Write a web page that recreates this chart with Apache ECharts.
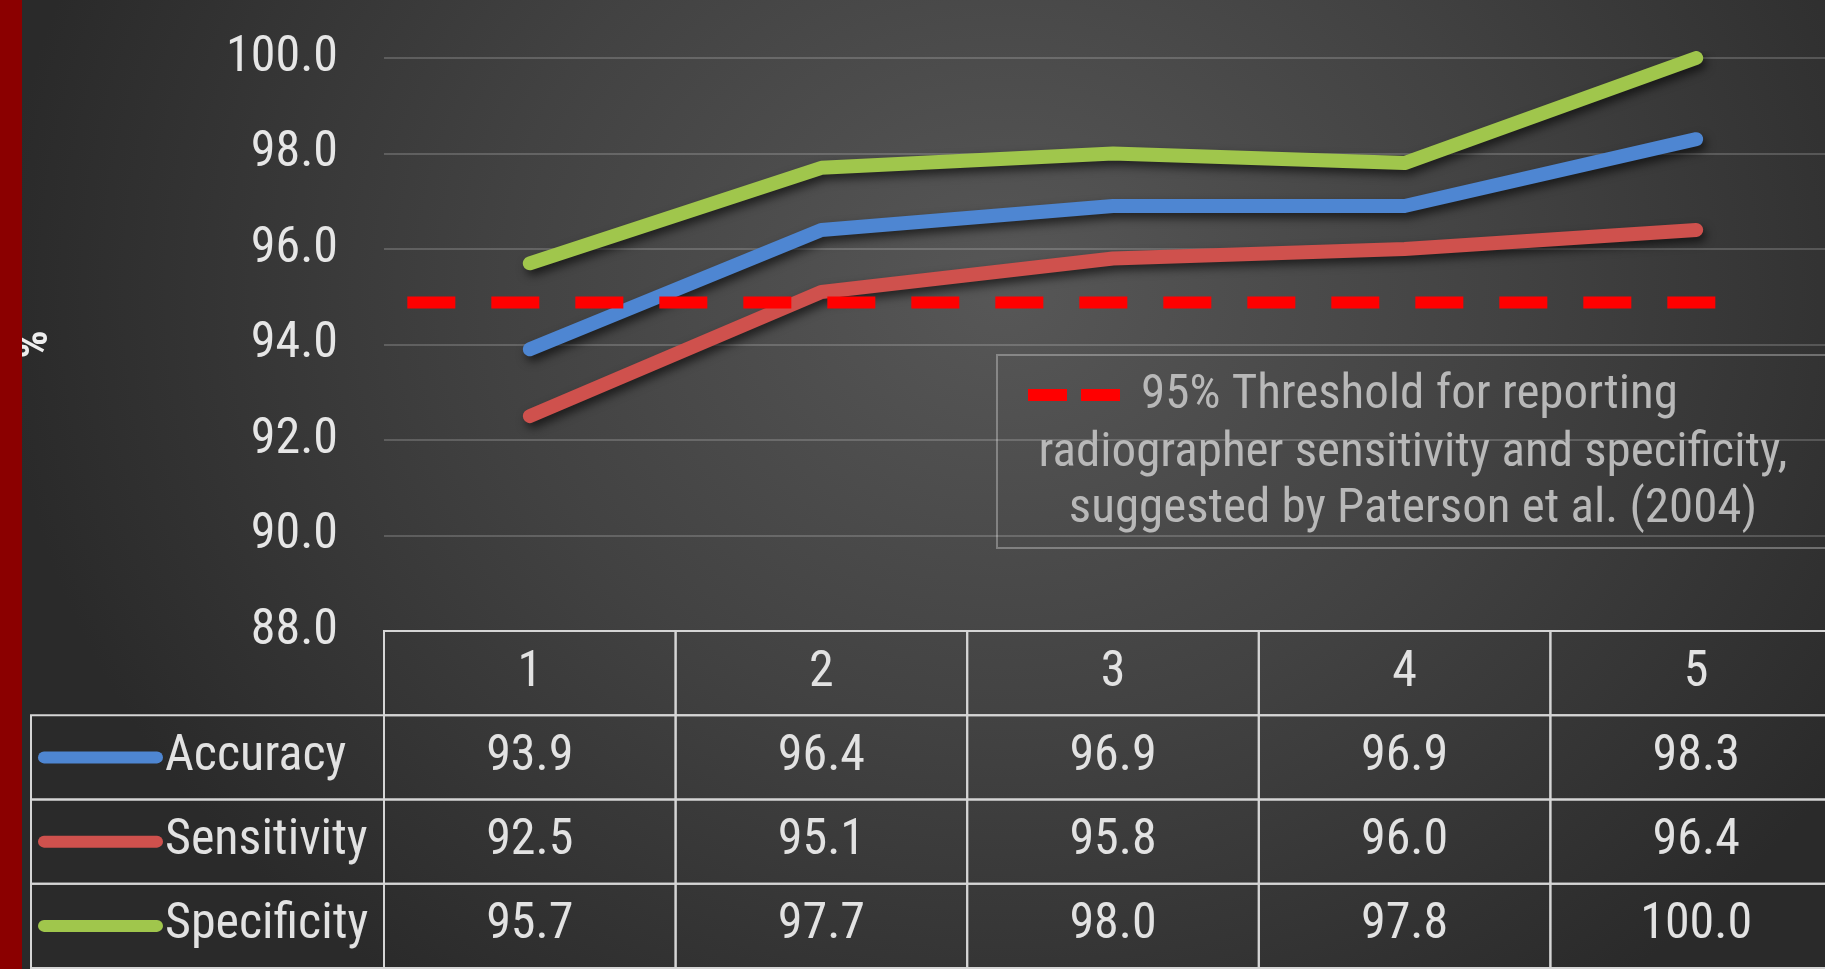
<!DOCTYPE html>
<html><head><meta charset="utf-8">
<script src="https://cdn.jsdelivr.net/npm/echarts@6/dist/echarts.min.js"></script>
<style>
html,body{margin:0;padding:0;width:1825px;height:969px;overflow:hidden;}
body{background: radial-gradient(ellipse 55% 90% at 55% 30%, #575757 0%, #424242 50%, #2a2a2a 100%);}
#bar{position:absolute;left:0;top:0;width:22px;height:969px;background:#8b0000;z-index:2;}
#chart{position:absolute;left:0;top:0;width:1825px;height:969px;}
</style></head><body>
<div id="chart"></div><div id="bar"></div>
<script>
// ---- data ----
const categories = ['1', '2', '3', '4', '5'];
const seriesNames = ['Accuracy', 'Sensitivity', 'Specificity'];
const accuracy = [93.9, 96.4, 96.9, 96.9, 98.3];
const sensitivity = [92.5, 95.1, 95.8, 96.0, 96.4];
const specificity = [95.7, 97.7, 98.0, 97.8, 100.0];
const yMin = 88, yMax = 100, yStep = 2;
const thresholdValue = 94.88;
const thresholdSpan = [0.58, 5.07]; // along the category scale (1..5)
const thresholdLegendLines = [
  '95% Threshold for reporting',
  'radiographer sensitivity and specificity,',
  'suggested by Paterson et al. (2004)'
];

// ---- styles ----
const FONT = "'Liberation Sans Narrow', 'Arial Narrow', 'Roboto Condensed', Roboto, sans-serif";
const colors = ['#4e86d2', '#cf514d', '#a0c64c'];
const TABLE_LEFT = 31;
const seriesValues = [accuracy, sensitivity, specificity];

const cells = [];
categories.forEach((c, i) => cells.push({col: i + 1, row: 0, text: c}));
seriesNames.forEach((n, r) => {
  cells.push({col: 0, row: r + 1, text: n, color: colors[r], legend: true});
  seriesValues[r].forEach((v, i) => cells.push({col: i + 1, row: r + 1, text: v.toFixed(1)}));
});

const chart = echarts.init(document.getElementById('chart'), null, {renderer: 'canvas'});

const lineSeries = seriesNames.map((n, i) => ({
  name: n, type: 'line', xAxisIndex: 0, yAxisIndex: 0,
  data: seriesValues[i], symbol: 'none', z: 3,
  lineStyle: {color: colors[i], width: 14, cap: 'round', join: 'round',
    shadowColor: 'rgba(0,0,0,0.6)', shadowBlur: 10, shadowOffsetX: 3, shadowOffsetY: 5}
}));

chart.setOption({
  animation: false,
  backgroundColor: 'transparent',
  grid: [
    {left: 384, width: 1458, top: 58, height: 573, outerBoundsMode: 'none', containLabel: false},
    {left: 384, width: 1458, top: 631, height: 337, outerBoundsMode: 'none', containLabel: false}
  ],
  xAxis: [
    {type: 'category', gridIndex: 0, data: categories, boundaryGap: true,
     axisLine: {show: false}, axisTick: {show: false}, axisLabel: {show: false}, splitLine: {show: false}},
    {type: 'value', gridIndex: 0, min: 0.5, max: 5.5, show: false},
    {type: 'value', gridIndex: 1, min: 0.5, max: 5.5, show: false}
  ],
  yAxis: [
    {type: 'value', gridIndex: 0, min: yMin, max: yMax, interval: yStep,
     axisLine: {show: false}, axisTick: {show: false},
     axisLabel: {color: '#e6e6e6', fontSize: 50, fontFamily: FONT, margin: 46,
       formatter: v => v.toFixed(1)},
     splitLine: {lineStyle: {color: 'rgba(255,255,255,0.18)', width: 2}},
     name: '%', nameLocation: 'middle', nameGap: 326, nameRotate: 90,
     nameTextStyle: {color: '#eeeeee', fontSize: 44, fontWeight: 'bold', fontFamily: FONT}},
    {type: 'value', gridIndex: 1, min: 0, max: 4, inverse: true, show: false}
  ],
  series: [
    ...lineSeries,
    {
      name: 'threshold', type: 'line', xAxisIndex: 1, yAxisIndex: 0, symbol: 'none', z: 5,
      data: [[thresholdSpan[0], thresholdValue], [thresholdSpan[1], thresholdValue]],
      lineStyle: {color: '#ff0000', width: 12, type: [48, 36], cap: 'butt'}
    },
    {
      name: 'table', type: 'custom', xAxisIndex: 2, yAxisIndex: 1, clip: false, z: 2,
      data: cells.map(c => [c.col, c.row]),
      encode: {x: 0, y: 1},
      renderItem: function (params, api) {
        const cell = cells[params.dataIndex];
        const col = api.value(0), row = api.value(1);
        const p0 = api.coord([col - 0.5, row]);
        const p1 = api.coord([col + 0.5, row + 1]);
        let x0 = p0[0], x1 = p1[0];
        if (cell.legend) { x0 = TABLE_LEFT; x1 = api.coord([0.5, row])[0]; }
        const y0 = p0[1], y1 = p1[1];
        const cy = (y0 + y1) / 2, cx = (x0 + x1) / 2;
        const children = [{
          type: 'rect', shape: {x: x0, y: y0, width: x1 - x0, height: y1 - y0},
          style: {fill: 'none', stroke: '#d5d5d5', lineWidth: 2}
        }];
        if (cell.legend) {
          children.push({type: 'line', shape: {x1: x0 + 13, y1: cy, x2: x0 + 126, y2: cy},
            style: {stroke: cell.color, lineWidth: 12, lineCap: 'round'}});
          children.push({type: 'text', x: x0 + 134, y: cy,
            style: {text: cell.text, fill: '#e2e2e2', fontSize: 50, fontFamily: FONT, align: 'left', verticalAlign: 'middle'}});
        } else {
          children.push({type: 'text', x: cx, y: cy,
            style: {text: cell.text, fill: '#e2e2e2', fontSize: 50, fontFamily: FONT, align: 'center', verticalAlign: 'middle'}});
        }
        return {type: 'group', children: children};
      }
    }
  ],
  graphic: [
    {type: 'rect', shape: {x: 997, y: 355, width: 850, height: 193},
     style: {fill: 'none', stroke: 'rgba(255,255,255,0.3)', lineWidth: 2}, z: 10},
    {type: 'rect', shape: {x: 1028, y: 389, width: 39, height: 12}, style: {fill: '#ff0000'}, z: 10},
    {type: 'rect', shape: {x: 1081, y: 389, width: 39, height: 12}, style: {fill: '#ff0000'}, z: 10},
    {type: 'text', x: 1141, y: 396, z: 10,
     style: {text: thresholdLegendLines[0], fill: '#b8b8b8', fontSize: 49, fontFamily: FONT, align: 'left', verticalAlign: 'middle'}},
    {type: 'text', x: 1413, y: 454, z: 10,
     style: {text: thresholdLegendLines[1], fill: '#b8b8b8', fontSize: 49, fontFamily: FONT, align: 'center', verticalAlign: 'middle'}},
    {type: 'text', x: 1413, y: 510, z: 10,
     style: {text: thresholdLegendLines[2], fill: '#b8b8b8', fontSize: 49, fontFamily: FONT, align: 'center', verticalAlign: 'middle'}}
  ]
});
</script>
</body></html>
